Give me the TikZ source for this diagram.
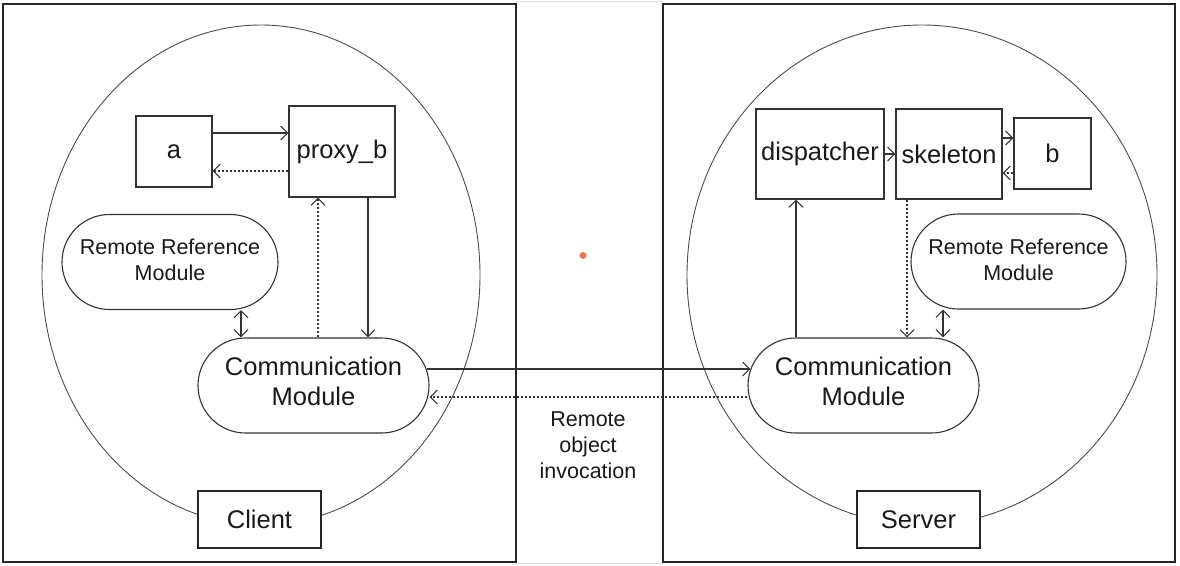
\documentclass[tikz,border=0pt]{standalone}
\usepackage{fontspec}
\setmainfont{Liberation Sans}
\usetikzlibrary{arrows.meta,shapes.misc}
\definecolor{dotred}{RGB}{238,116,78}
\begin{document}
\begin{tikzpicture}[x=1pt,y=-1pt,
    big/.style={font=\fontsize{25.5}{30}\selectfont},
    small/.style={font=\fontsize{21.5}{26}\selectfont},
    box/.style={draw=black!80,line width=1.1pt,inner sep=0pt,big,text=black!90},
    module/.style={rounded rectangle,draw=black!80,line width=1.1pt,inner sep=0pt,align=center,minimum height=95pt,text=black!90},
    side/.style={draw=black!85,line width=2pt,fill=white,inner sep=0pt,minimum width=123pt,minimum height=57pt,big,text=black!90},
    frame/.style={draw=black!85,line width=2.5pt},
    oval/.style={draw=black!70,line width=0.9pt},
    >={Straight Barb[length=7pt,width=14pt]},
    arr/.style={->,draw=black!80,line width=1.1pt},
    dasharr/.style={arr,dash pattern=on 2.5pt off 1.5pt},
    twoway/.style={<->,draw=black!80,line width=1.1pt}]
    \useasboundingbox (0,0) rectangle (1180,565);
    \draw[black!12,line width=1pt] (516,1.5)--(663,1.5) (516,563.5)--(663,563.5);
    \draw[frame] (3,4) rectangle (516,562);
    \draw[frame] (663,4) rectangle (1175,562);
    \draw[oval] (261,275) ellipse [x radius=219pt,y radius=250pt];
    \draw[oval] (922,275) ellipse [x radius=235pt,y radius=250pt];
    \fill[dotred] (583,255.5) circle [radius=3.5pt];

    \node[box,minimum width=76pt,minimum height=71pt] (a) at (174,151.5) {a};
    \node[box,minimum width=106pt,minimum height=91pt] (proxy) at (342,151.5) {proxy\_b};
    \node[module,small,text depth=4pt,minimum width=216pt] (rrmC) at (170,262) {Remote Reference\\Module};
    \node[module,big,text depth=8pt,minimum width=231pt] (cmC) at (313.5,385.5) {Communication\\Module};
    \node[side] (client) at (259.5,519.5) {Client};

    \node[box,minimum width=128pt,minimum height=90pt] (disp) at (820,154) {dispatcher};
    \node[box,minimum width=106pt,minimum height=90pt] (skel) at (949,154) {skeleton};
    \node[box,minimum width=77pt,minimum height=71pt] (b) at (1052.5,153.5) {b};
    \node[module,small,text depth=4pt,minimum width=215pt] (rrmS) at (1018.5,261.5) {Remote Reference\\Module};
    \node[module,big,text depth=8pt,minimum width=231pt] (cmS) at (863.5,385.5) {Communication\\Module};
    \node[side] (server) at (918.5,519.5) {Server};

    \node[small,align=center,text=black!90] (invoc) at (588,445) {Remote\\object\\invocation};

    \draw[arr] ([yshift=18.5pt]a.east) -- ([yshift=18.5pt]proxy.west);
    \draw[dasharr] ([yshift=-19.5pt]proxy.west) -- ([yshift=-19.5pt]a.east);
    \draw[dasharr] ([xshift=4.5pt]cmC.north) -- ([xshift=-24pt]proxy.south);
    \draw[arr] ([xshift=26pt]proxy.south) -- ([xshift=54.5pt]cmC.north);
    \draw[twoway] ([xshift=71pt]rrmC.south) -- ([xshift=-72.5pt]cmC.north);

    \draw[arr] ([xshift=-3pt,yshift=16.5pt]cmC.east) -- ([xshift=3pt,yshift=16.5pt]cmS.west);
    \draw[dasharr] ([yshift=-11.5pt]cmS.west) -- ([yshift=-11.5pt]cmC.east);

    \draw[arr] (disp) -- (skel);
    \draw[arr] ([yshift=16pt]skel.east) -- ([yshift=15.5pt]b.west);
    \draw[dasharr] ([yshift=-19.5pt]b.west) -- ([yshift=-19pt]skel.east);
    \draw[arr] ([xshift=-67.5pt]cmS.north) -- ([xshift=-24pt]disp.south);
    \draw[dasharr] ([xshift=-42pt]skel.south) -- ([xshift=43.5pt]cmS.north);
    \draw[twoway] ([xshift=-75.5pt]rrmS.south) -- ([xshift=79.5pt]cmS.north);

\end{tikzpicture}
\end{document}
